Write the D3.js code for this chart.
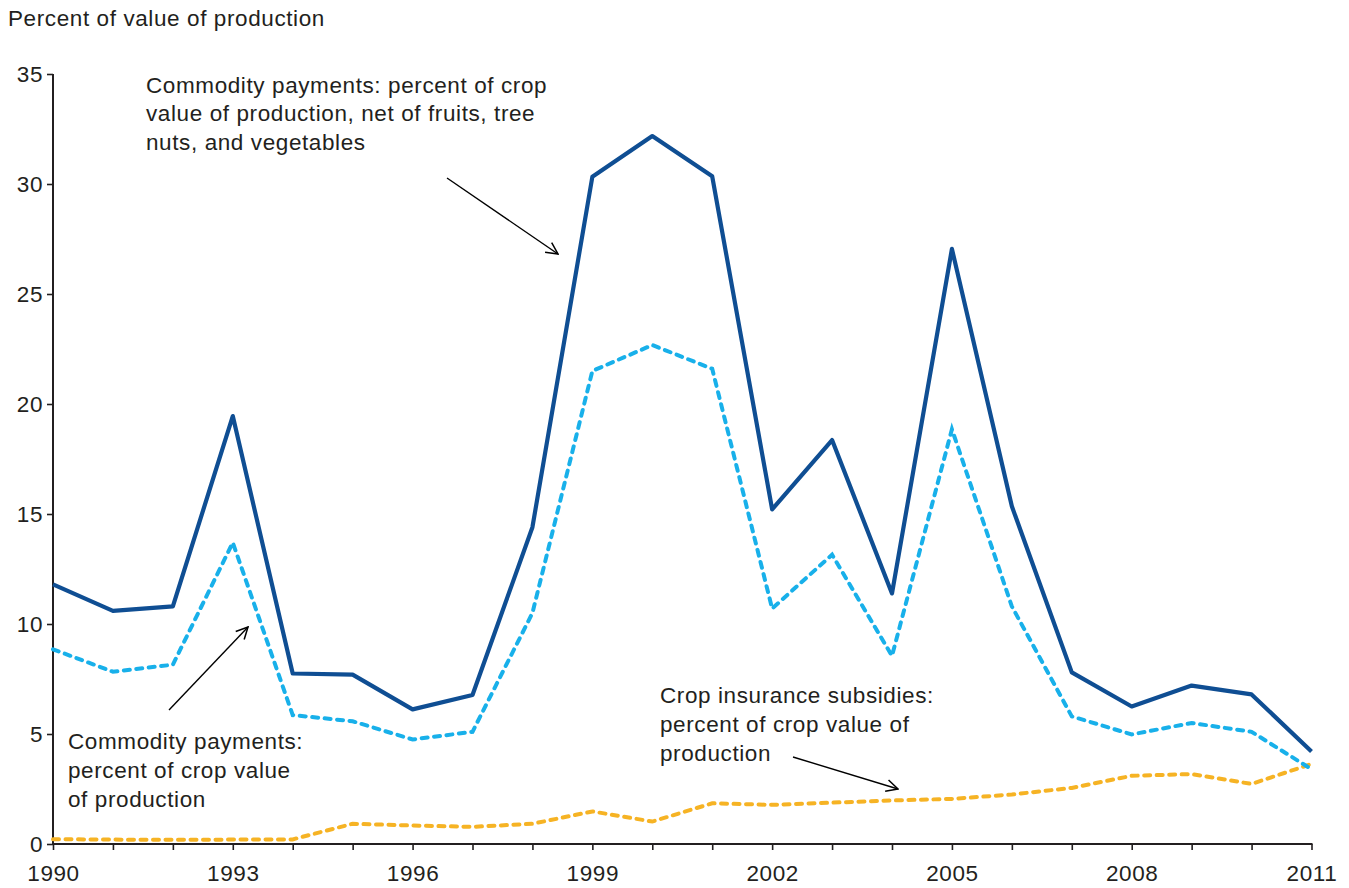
<!DOCTYPE html>
<html><head><meta charset="utf-8">
<script src="https://cdn.jsdelivr.net/npm/d3@7"></script>
<style>body{margin:0;background:#fff;font-family:"Liberation Sans",Arial,sans-serif;}</style>
</head><body><svg id="c" width="1349" height="888"></svg>
<script>
const years = d3.range(1990, 2012);
const netFruitsVeg = [11.8,10.6,10.8,19.45,7.75,7.7,6.12,6.77,14.4,30.33,32.18,30.35,15.21,18.36,11.39,27.05,15.35,7.8,6.25,7.2,6.8,4.2];
const commodityPay = [8.85,7.83,8.15,13.7,5.86,5.58,4.75,5.1,10.5,21.5,22.68,21.6,10.7,13.15,8.55,18.85,10.8,5.8,4.98,5.5,5.1,3.4];
const cropInsurance = [0.22,0.2,0.19,0.2,0.21,0.92,0.84,0.78,0.92,1.48,1.02,1.85,1.78,1.88,1.98,2.05,2.25,2.55,3.1,3.18,2.73,3.64];
const yTicks = [0,5,10,15,20,25,30,35];
const xLabelYears = [1990,1993,1996,1999,2002,2005,2008,2011];

const svg = d3.select("#c");
const x = d3.scaleLinear().domain([1990,2011]).range([53,1311.5]);
const y = d3.scaleLinear().domain([0,35]).range([844,74]);
const txt = "#231f20";
const FS = "22.5px", LS = "0.6px";

// axes
const ya = svg.append("g").attr("transform","translate(53,0)")
  .call(d3.axisLeft(y).tickValues(yTicks).tickSize(6).tickPadding(4).tickFormat(d3.format("d")));
const xa = svg.append("g").attr("transform","translate(0,844)")
  .call(d3.axisBottom(x).tickValues(years).tickSize(6).tickPadding(15)
    .tickFormat(d => xLabelYears.includes(d) ? String(d) : ""));
[ya,xa].forEach(a=>{
  a.select(".domain").attr("stroke",txt).attr("stroke-width",2);
  a.selectAll(".tick line").attr("stroke",txt).attr("stroke-width",1.6);
  a.selectAll("text").attr("fill",txt).style("font-size",FS).style("letter-spacing",LS)
    .style("font-family","Liberation Sans, Arial, sans-serif");
});
ya.selectAll("text").attr("dy","0.34em");
xa.selectAll("text").attr("dy","0.72em");
ya.select(".domain").attr("d","M0,74V845");
xa.select(".domain").attr("d","M52,0H1312.5");

const line = arr => d3.line().x((d,i)=>x(years[i])).y(d=>y(d))(arr);
svg.append("path").attr("d",line(cropInsurance)).attr("fill","none")
  .attr("stroke","#f6b324").attr("stroke-width",4).attr("stroke-dasharray","6,6.5").attr("stroke-linecap","round");
svg.append("path").attr("d",line(commodityPay)).attr("fill","none")
  .attr("stroke","#18b0ea").attr("stroke-width",4).attr("stroke-dasharray","6,6.5").attr("stroke-linecap","round");
svg.append("path").attr("d",line(netFruitsVeg)).attr("fill","none")
  .attr("stroke","#0f4e93").attr("stroke-width",4.2).attr("stroke-linejoin","round");

// title
svg.append("text").attr("x",8).attr("y",26).text("Percent of value of production")
  .attr("fill",txt).style("font-size",FS).style("letter-spacing",LS);

// annotations
function block(lines, x0, y0) {
  const t = svg.append("text").attr("fill",txt).style("font-size",FS).style("letter-spacing",LS);
  lines.forEach((l,i)=>t.append("tspan").attr("x",x0).attr("y",y0+i*28.8).text(l));
}
block(["Commodity payments: percent of crop","value of production, net of fruits, tree","nuts, and vegetables"],146,92.5);
block(["Commodity payments:","percent of crop value","of production"],68,749);
block(["Crop insurance subsidies:","percent of crop value of","production"],660,703);

// arrows
svg.append("defs").append("marker").attr("id","ah").attr("viewBox","0 0 12 12").attr("refX",11).attr("refY",6)
  .attr("markerWidth",14).attr("markerHeight",14).attr("markerUnits","userSpaceOnUse").attr("orient","auto")
  .append("path").attr("d","M1,1L11,6L1,11").attr("fill","none").attr("stroke","#000").attr("stroke-width",1.3);
[[447,178,558,254],[169,710,248,627],[793,757,898,789]].forEach(a=>{
  svg.append("line").attr("x1",a[0]).attr("y1",a[1]).attr("x2",a[2]).attr("y2",a[3])
    .attr("stroke","#000").attr("stroke-width",1.4).attr("marker-end","url(#ah)");
});
</script></body></html>
